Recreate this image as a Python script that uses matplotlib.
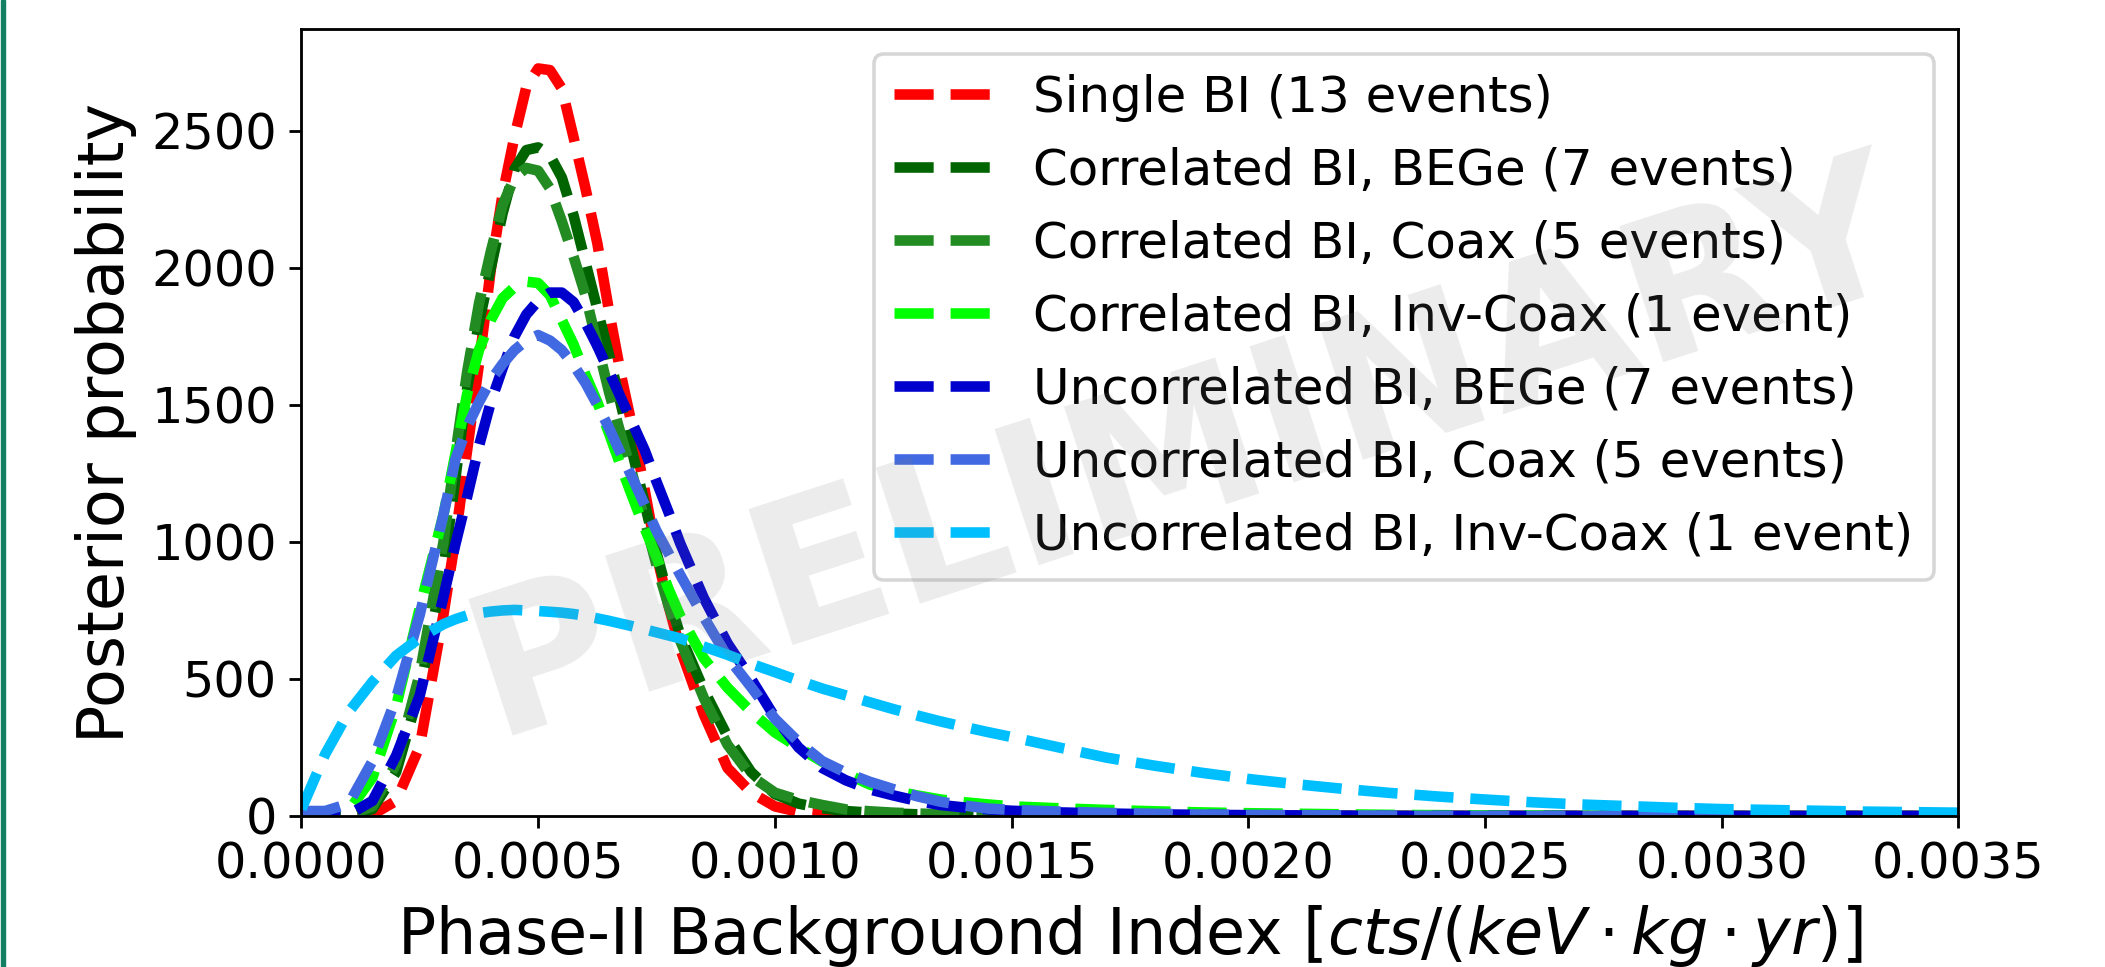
import numpy as np
import matplotlib
matplotlib.use("Agg")
import matplotlib.pyplot as plt
from matplotlib.patches import Rectangle

S = 2.54  # global scale factor for sizes

x_bi = [0.0, 0.00005, 0.0001, 0.00015, 0.0002, 0.00025, 0.0003,
        0.000325, 0.00035, 0.000375, 0.0004, 0.000425, 0.00045, 0.000475, 0.0005, 0.000525,
        0.00055, 0.000575, 0.0006, 0.000625, 0.00065, 0.000675, 0.0007, 0.000725, 0.00075,
        0.000775, 0.0008,
        0.00085, 0.0009, 0.00095, 0.001, 0.00105, 0.0011, 0.00115, 0.0012, 0.00125, 0.0013,
        0.00135, 0.0014, 0.00145, 0.0015,
        0.0016, 0.0017, 0.0018, 0.0019, 0.002, 0.0021, 0.0022, 0.0023, 0.0024, 0.0025,
        0.0026, 0.0027, 0.0028, 0.0029, 0.003, 0.0031, 0.0032, 0.0033, 0.0034, 0.0035]

single_bi = [0, 0, 0, 5, 55, 255, 735,
             1010, 1335, 1650, 1995, 2270, 2480, 2660, 2728, 2722, 2655, 2475, 2290, 2090, 1840,
             1610, 1410, 1190, 955, 770, 610,
             370, 175, 85, 35, 15, 6, 2, 0, 0, 0, 0, 0, 0, 0,
             0, 0, 0, 0, 0, 0, 0, 0, 0, 0, 0, 0, 0, 0, 0, 0, 0, 0, 0, 0]

corr_bege = [0, 0, 2, 25, 160, 460, 900,
             1230, 1560, 1800, 2000, 2200, 2360, 2430, 2440, 2410, 2330, 2190, 2020, 1850, 1680,
             1500, 1320, 1140, 960, 800, 660,
             460, 290, 160, 80, 45, 28, 18, 12, 9, 6, 4, 2, 1, 0,
             0, 0, 0, 0, 0, 0, 0, 0, 0, 0, 0, 0, 0, 0, 0, 0, 0, 0, 0, 0]

corr_coax = [0, 0, 3, 35, 190, 520, 1000,
             1320, 1620, 1870, 2060, 2230, 2330, 2365, 2355, 2290, 2170, 2040, 1900, 1720, 1545,
             1390, 1240, 1080, 915, 770, 640,
             430, 260, 145, 85, 58, 40, 24, 17, 12, 9, 6, 4, 3, 2,
             1, 0, 0, 0, 0, 0, 0, 0, 0, 0, 0, 0, 0, 0, 0, 0, 0, 0, 0, 0]

corr_invcoax = [0, 2, 20, 140, 400, 760, 1100,
                1320, 1540, 1700, 1810, 1890, 1930, 1950, 1945, 1900, 1810, 1720, 1610, 1510, 1395,
                1275, 1160, 1050, 945, 830, 730,
                575, 468, 380, 305, 250, 198, 155, 115, 92, 75, 60, 50, 42, 35,
                28, 22, 17, 13, 10, 8, 6, 4, 3, 2, 2, 1, 1, 1, 0, 0, 0, 0, 0, 0]

uncorr_bege = [0, 0, 5, 55, 220, 440, 800,
               990, 1165, 1350, 1510, 1635, 1750, 1830, 1880, 1910, 1910, 1875, 1800, 1715, 1620,
               1525, 1430, 1335, 1220, 1110, 995,
               795, 630, 500, 360, 250, 175, 130, 97, 75, 55, 40, 31, 24, 19,
               13, 9, 6, 4, 3, 2, 1, 0, 0, 0, 0, 0, 0, 0, 0, 0, 0, 0, 0, 0]

uncorr_coax = [18, 18, 45, 200, 430, 735, 1100,
               1300, 1420, 1510, 1590, 1650, 1700, 1735, 1755, 1735, 1700, 1645, 1580, 1500, 1415,
               1320, 1230, 1135, 1040, 960, 880,
               725, 580, 470, 355, 270, 200, 158, 125, 98, 72, 52, 38, 27, 22,
               16, 11, 8, 5, 4, 3, 2, 1, 0, 0, 0, 0, 0, 0, 0, 0, 0, 0, 0, 0]

uncorr_invcoax = [25, 225, 380, 490, 585, 650, 700,
                  718, 732, 740, 746, 750, 752, 750, 748, 745, 742, 737, 730, 721, 712,
                  702, 692, 681, 670, 659, 648,
                  618, 588, 555, 525, 494, 465, 440, 415, 390, 367, 345, 325, 306, 288,
                  250, 213, 184, 158, 135, 116, 99, 84, 71, 60, 50, 42, 36, 30, 25, 22, 19, 16, 14, 12]

labels = ["Single BI (13 events)",
          "Correlated BI, BEGe (7 events)",
          "Correlated BI, Coax (5 events)",
          "Correlated BI, Inv-Coax (1 event)",
          "Uncorrelated BI, BEGe (7 events)",
          "Uncorrelated BI, Coax (5 events)",
          "Uncorrelated BI, Inv-Coax (1 event)"]
colors = ["red", "darkgreen", "forestgreen", "lime", "mediumblue", "royalblue", "deepskyblue"]
series = [single_bi, corr_bege, corr_coax, corr_invcoax, uncorr_bege, uncorr_coax, uncorr_invcoax]

x_ticks = [0.0, 0.0005, 0.001, 0.0015, 0.002, 0.0025, 0.003, 0.0035]
x_ticklabels = ["0.0000", "0.0005", "0.0010", "0.0015", "0.0020", "0.0025", "0.0030", "0.0035"]
y_ticks = [0, 500, 1000, 1500, 2000, 2500]

plt.rcParams["font.family"] = ["DejaVu Sans"]
plt.rcParams["mathtext.fontset"] = "dejavusans"

fig = plt.figure(figsize=(21.05, 9.67), dpi=100)
ax = fig.add_axes([0.1432, 0.1562, 0.9304 - 0.1432, 0.970 - 0.1562])

for ys, c, lab in zip(series, colors, labels):
    ax.plot(x_bi, ys, linestyle="--", color=c, lw=3 * S, label=lab)

ax.set_xlim(0, 0.0035)
ax.set_ylim(0, 2872)
ax.set_xticks(x_ticks)
ax.set_xticklabels(x_ticklabels)
ax.set_yticks(y_ticks)
ax.tick_params(labelsize=14 * S, length=3.5 * S, width=0.8 * S, pad=3.5 * S)
for sp in ax.spines.values():
    sp.set_linewidth(0.8 * S)

ax.set_xlabel(r"Phase-II Backgrouond Index [$cts/(keV \cdot kg \cdot yr)$]",
              fontsize=18 * S, labelpad=4 * S)
ax.set_ylabel("Posterior probability", fontsize=18 * S, labelpad=4 * S)

leg = ax.legend(loc="upper right", fontsize=14.15 * S)
leg.get_frame().set_linewidth(1.0 * S)

ax.text(0.535, 0.46, "PRELIMINARY", transform=ax.transAxes, fontsize=141,
        fontweight="bold", color="gray", alpha=0.15, rotation=18,
        ha="center", va="center", zorder=10)

fig.patches.append(Rectangle((0.0006, 0), 0.0018, 1, transform=fig.transFigure,
                             color="#138064", zorder=0))

fig.savefig("out.png", dpi=100)
